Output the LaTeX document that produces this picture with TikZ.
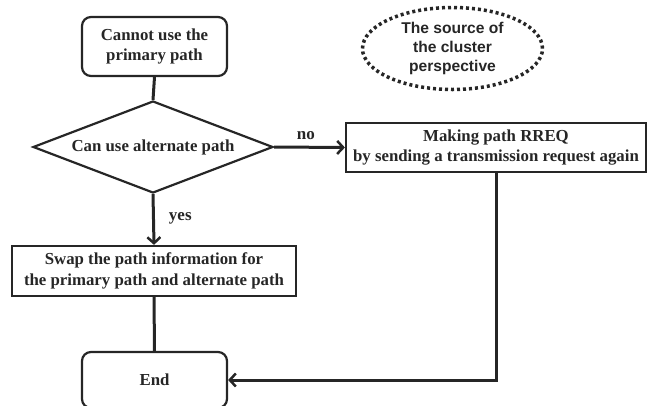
\documentclass[tikz,border=0pt]{standalone}
\usepackage{fontspec}
\setmainfont{Liberation Serif}
\newfontfamily\ellfont{Liberation Sans}
\usetikzlibrary{shapes.geometric,arrows.meta}
\definecolor{ink}{HTML}{262626}
\begin{document}
\begin{tikzpicture}[x=1pt,y=-1pt,
  every node/.style={text=ink,font=\fontsize{16.8}{20.5}\selectfont\bfseries,align=center,inner sep=0pt},
  box/.style={draw=ink,line width=2.2pt,rectangle,minimum width=#1,minimum height=50pt},
  rbox/.style={draw=ink,line width=2.2pt,rectangle,rounded corners=9pt,minimum width=145pt,minimum height=#1},
  dec/.style={draw=ink,line width=2.2pt,diamond,aspect=2.6,minimum width=240pt,minimum height=92pt},
  conn/.style={draw=ink,line width=3pt},
  arr/.style={conn,-{Straight Barb[length=6pt,width=13pt,line width=2.5pt]}},
  lbl/.style={font=\fontsize{17}{20}\selectfont\bfseries}
]
\useasboundingbox (0,0) rectangle (657,405);
\node[rbox=59pt] (start) at (154.5,46.5) {Cannot use the\\primary path};
\node[dec] (dec) at (153,147) {Can use alternate path};
\node[box=300pt,minimum height=49pt] (rreq) at (496,147.5) {Making path RREQ\\by sending a transmission request again};
\node[box=284pt] (swap) at (154,271) {Swap the path information for\\the primary path and alternate path};
\node[rbox=56pt] (end) at (154.5,380) {End};
\node[draw=ink,ellipse,line width=3.5pt,dash pattern=on 3pt off 3pt,minimum width=180pt,minimum height=82pt,
  font=\ellfont\fontsize{15.6}{19}\selectfont\bfseries] (src) at (452.5,48.5) {The source of\\the cluster\\perspective};
\draw[conn] (start.south) -- (dec.north);
\draw[arr] (dec.east) -- (rreq.west) node[lbl,pos=0.45,above=6pt] (no) {no};
\draw[arr] (dec.south) -- (swap.north) node[lbl,pos=0.47,right=14pt] (yes) {yes};
\draw[conn] (swap.south) -- (end.north);
\draw[arr] (rreq.south) |- (end.east);
\end{tikzpicture}
\end{document}
